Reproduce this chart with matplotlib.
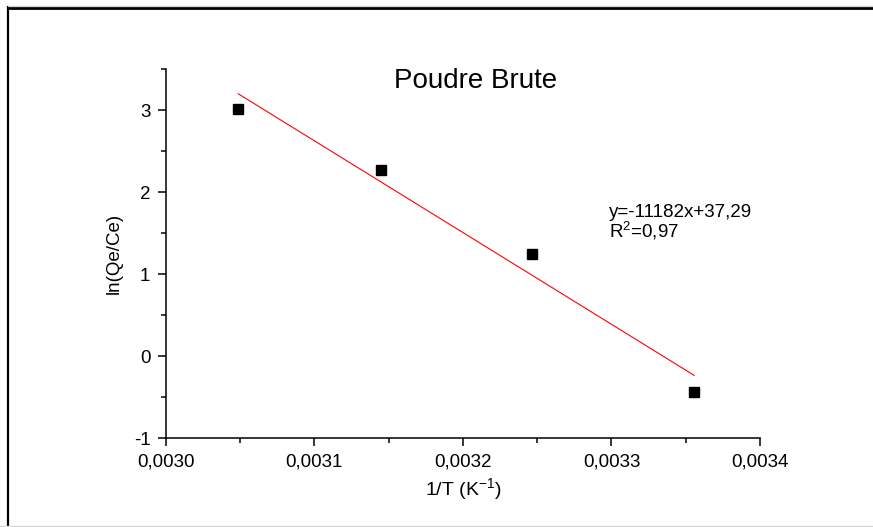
import numpy as np
import matplotlib
matplotlib.use('Agg')
import matplotlib.pyplot as plt
from matplotlib.ticker import MultipleLocator, FuncFormatter
from matplotlib.lines import Line2D

plt.rcParams['font.family'] = ['Liberation Sans', 'DejaVu Sans']
plt.rcParams['mathtext.fontset'] = 'custom'
plt.rcParams['mathtext.rm'] = 'Liberation Sans'
plt.rcParams['mathtext.it'] = 'Liberation Sans:italic'

# data: 1/T (K^-1) and ln(Qe/Ce)
inv_T = [0.0030488, 0.0031447, 0.0032468, 0.0033557]
ln_qe_ce = [3.01, 2.27, 1.25, -0.44]

# linear fit given on the chart
slope = -11182
intercept = 37.29
r2_text = '0,97'

fig = plt.figure(figsize=(8.73, 5.27), dpi=100)
ax = fig.add_axes([0.1898, 0.1683, 0.6808, 0.7008])

ax.plot(inv_T, ln_qe_ce, 's', color='black', markersize=7, linestyle='none')
xfit = np.array([min(inv_T), max(inv_T)])
ax.plot(xfit, slope * xfit + intercept, color='red', lw=0.8)

ax.set_xlim(0.0030, 0.0034)
ax.set_ylim(-1, 3.5)
ax.xaxis.set_major_locator(MultipleLocator(0.0001))
ax.xaxis.set_minor_locator(MultipleLocator(0.00005))
ax.yaxis.set_major_locator(MultipleLocator(1))
ax.yaxis.set_minor_locator(MultipleLocator(0.5))
ax.xaxis.set_major_formatter(FuncFormatter(lambda v, p: '{:.4f}'.format(v).replace('.', ',')))
ax.yaxis.set_major_formatter(FuncFormatter(lambda v, p: '{:.0f}'.format(v)))

for side in ['top', 'right']:
    ax.spines[side].set_visible(False)
for side in ['left', 'bottom']:
    ax.spines[side].set_linewidth(1.1)

ax.tick_params(which='major', direction='out', length=6, width=1.1, labelsize=13.5, pad=5)
ax.tick_params(which='minor', direction='out', length=3.5, width=1.1)

ax.set_xlabel('1/T (K$^{-1}$)', fontsize=14, va='center')
ax.xaxis.set_label_coords(0.5, -0.137)
ax.set_ylabel('ln(Qe/Ce)', fontsize=13.5, va='center')
ax.yaxis.set_label_coords(-0.087, 0.5)

ax.text(0.522, 0.9486, 'Poudre Brute', transform=ax.transAxes, ha='center',
        va='baseline', fontsize=20)
ax.text(0.746, 0.599, 'y={}x+{}'.format(slope, str(intercept).replace('.', ',')),
        transform=ax.transAxes, ha='left', va='baseline', fontsize=13.5)
ax.text(0.746, 0.5424, 'R$^2$=' + r2_text, transform=ax.transAxes, ha='left',
        va='baseline', fontsize=13.5)

# outer frame
fig.add_artist(Line2D([8 / 873, 8 / 873], [0, 1 - 7 / 527], color='black', lw=1.6))
fig.add_artist(Line2D([8 / 873, 1], [1 - 8 / 527, 1 - 8 / 527], color='black', lw=2))
fig.add_artist(Line2D([8 / 873, 1], [1 - 6 / 527, 1 - 6 / 527], color='#d0d0d0', lw=0.8))
fig.add_artist(Line2D([0, 1], [1 / 527, 1 / 527], color='#d8d8d8', lw=1))

fig.savefig('out.png', dpi=100)
